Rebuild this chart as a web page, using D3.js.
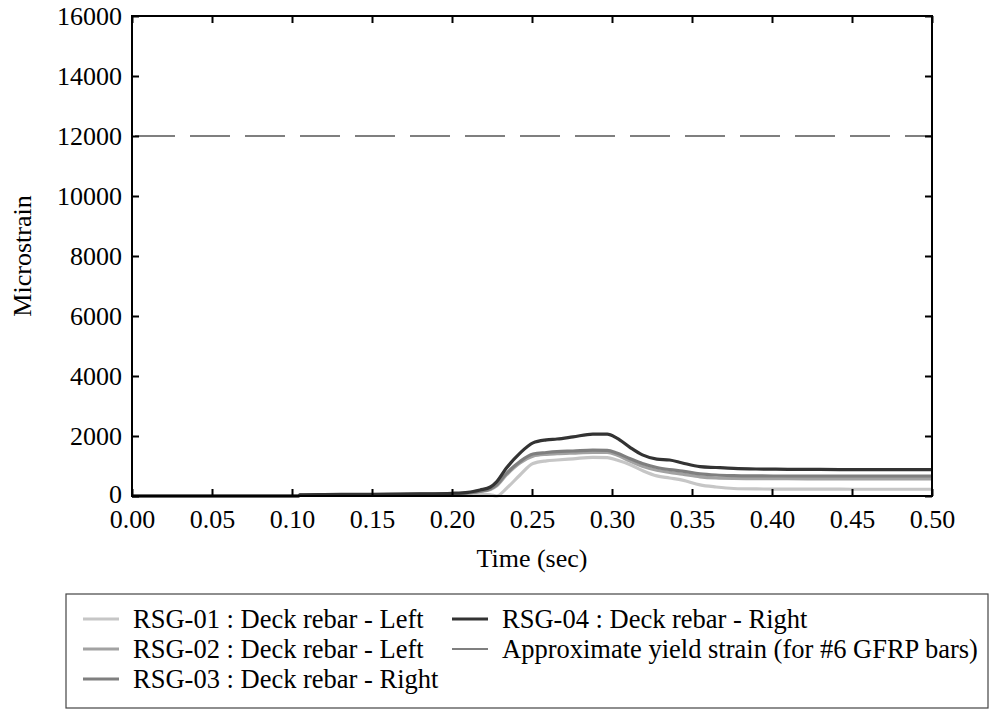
<!DOCTYPE html>
<html><head><meta charset="utf-8">
<script src="https://cdn.jsdelivr.net/npm/d3@7"></script>
<style>body{margin:0;background:#fff;} svg{display:block;} text{font-family:"Liberation Serif","Times New Roman",serif;fill:#000;}</style>
</head><body>
<script>
const time = [0, 0.05, 0.07, 0.104, 0.105, 0.12, 0.14, 0.16, 0.18, 0.20, 0.21, 0.2175, 0.224, 0.228, 0.234, 0.2425, 0.2506, 0.259, 0.2656, 0.2756, 0.288, 0.297, 0.303, 0.311, 0.319, 0.328, 0.336, 0.344, 0.355, 0.365, 0.376, 0.39, 0.41, 0.43, 0.45, 0.47, 0.50];
const rsg04 = [0, 0, 0, 0, 40, 50, 55, 60, 70, 90, 120, 200, 300, 480, 930, 1430, 1770, 1870, 1900, 1970, 2060, 2060, 1930, 1630, 1370, 1230, 1200, 1100, 980, 950, 920, 900, 890, 885, 880, 880, 880];
const rsg03 = [0, 0, 0, 0, 30, 40, 45, 50, 60, 80, 100, 160, 240, 380, 750, 1150, 1400, 1450, 1480, 1500, 1530, 1520, 1430, 1250, 1080, 950, 880, 830, 740, 700, 680, 670, 665, 660, 660, 660, 660];
const rsg02 = [0, 0, 0, 0, 30, 40, 45, 50, 60, 80, 100, 150, 220, 340, 700, 1100, 1330, 1390, 1410, 1430, 1450, 1450, 1370, 1170, 990, 860, 790, 730, 640, 600, 585, 580, 575, 570, 570, 570, 570];
const rsg01 = [0, 0, 0, 0, 20, 30, 35, 40, 50, 60, 70, 60, 40, 0, 250, 700, 1080, 1170, 1200, 1240, 1290, 1280, 1200, 1050, 850, 670, 600, 530, 370, 300, 250, 235, 230, 230, 225, 225, 225];
const yieldStrain = 12000;
const xTicks = [0, 0.05, 0.10, 0.15, 0.20, 0.25, 0.30, 0.35, 0.40, 0.45, 0.50];
const yTicks = [0, 2000, 4000, 6000, 8000, 10000, 12000, 14000, 16000];
const seriesNames = ["RSG-01 : Deck rebar - Left", "RSG-02 : Deck rebar - Left", "RSG-03 : Deck rebar - Right", "RSG-04 : Deck rebar - Right"];
const yieldName = "Approximate yield strain (for #6 GFRP bars)";

const W = 998, H = 710;
const M = {left: 132, right: 932, top: 16, bottom: 496};
const colors = ["#c6c6c6", "#a2a2a2", "#7f7f7f", "#333333"];
const series = [rsg01, rsg02, rsg03, rsg04];

const svg = d3.select("body").append("svg").attr("width", W).attr("height", H);
const x = d3.scaleLinear().domain([0, 0.5]).range([M.left, M.right]);
const y = d3.scaleLinear().domain([0, 16000]).range([M.bottom, M.top]);

svg.append("line").attr("x1", x(0)).attr("x2", x(0.5)).attr("y1", y(yieldStrain)).attr("y2", y(yieldStrain))
  .attr("stroke", "#555").attr("stroke-width", 1.3).attr("stroke-dasharray", "40,15").attr("stroke-dashoffset", -3);

const line = d3.line().x((d, i) => x(time[i])).y(d => y(d)).curve(d3.curveMonotoneX);
series.forEach((s, k) => {
  svg.append("path").attr("d", line(s)).attr("fill", "none").attr("stroke", colors[k]).attr("stroke-width", 3.2);
});

svg.append("rect").attr("x", M.left).attr("y", M.top).attr("width", M.right - M.left).attr("height", M.bottom - M.top)
  .attr("fill", "none").attr("stroke", "#000").attr("stroke-width", 2);

const fs = 26;
const xa = svg.append("g").attr("transform", `translate(0,${M.bottom})`)
  .call(d3.axisBottom(x).tickValues(xTicks).tickFormat(d3.format(".2f")).tickSizeInner(-7).tickSizeOuter(0).tickPadding(14));
const xt = svg.append("g").attr("transform", `translate(0,${M.top})`)
  .call(d3.axisTop(x).tickValues(xTicks).tickFormat("").tickSizeInner(-7).tickSizeOuter(0));
const ya = svg.append("g").attr("transform", `translate(${M.left},0)`)
  .call(d3.axisLeft(y).tickValues(yTicks).tickFormat(d3.format("d")).tickSizeInner(-7).tickSizeOuter(0).tickPadding(10));
const yr = svg.append("g").attr("transform", `translate(${M.right},0)`)
  .call(d3.axisRight(y).tickValues(yTicks).tickFormat("").tickSizeInner(-7).tickSizeOuter(0));
[xa, xt, ya, yr].forEach(g => {
  g.attr("font-family", "Liberation Serif");
  g.select(".domain").remove();
  g.selectAll(".tick line").attr("stroke", "#000").attr("stroke-width", 2);
  g.selectAll("text").attr("font-size", fs).attr("font-family", "Liberation Serif").attr("fill", "#000");
});
ya.selectAll(".tick text").filter(d => d === 0).attr("dy", "0.25em");

svg.append("text").attr("x", (M.left + M.right) / 2).attr("y", 567).attr("text-anchor", "middle").attr("font-size", fs).text("Time (sec)");
svg.append("text").attr("transform", `translate(31,${(M.top + M.bottom) / 2}) rotate(-90)`).attr("text-anchor", "middle").attr("font-size", fs).text("Microstrain");

const lfs = 26.5;
const L = {x: 66, y: 594, w: 922, h: 114};
svg.append("rect").attr("x", L.x).attr("y", L.y).attr("width", L.w).attr("height", L.h).attr("fill", "#fff").attr("stroke", "#444").attr("stroke-width", 1.2);
const items = [
  {name: seriesNames[0], c: colors[0], w: 3.2, col: 0, row: 0},
  {name: seriesNames[1], c: colors[1], w: 3.2, col: 0, row: 1},
  {name: seriesNames[2], c: colors[2], w: 3.2, col: 0, row: 2},
  {name: seriesNames[3], c: colors[3], w: 3.2, col: 1, row: 0},
  {name: yieldName, c: "#555", w: 1.3, col: 1, row: 1}
];
const colX = [83, 452], rowY = [619, 649, 679];
items.forEach(it => {
  const lx = colX[it.col], ly = rowY[it.row];
  svg.append("line").attr("x1", lx).attr("x2", lx + 36).attr("y1", ly).attr("y2", ly).attr("stroke", it.c).attr("stroke-width", it.w);
  svg.append("text").attr("x", lx + 50).attr("y", ly).attr("dy", "0.33em").attr("font-size", lfs).text(it.name);
});
</script>
</body></html>
